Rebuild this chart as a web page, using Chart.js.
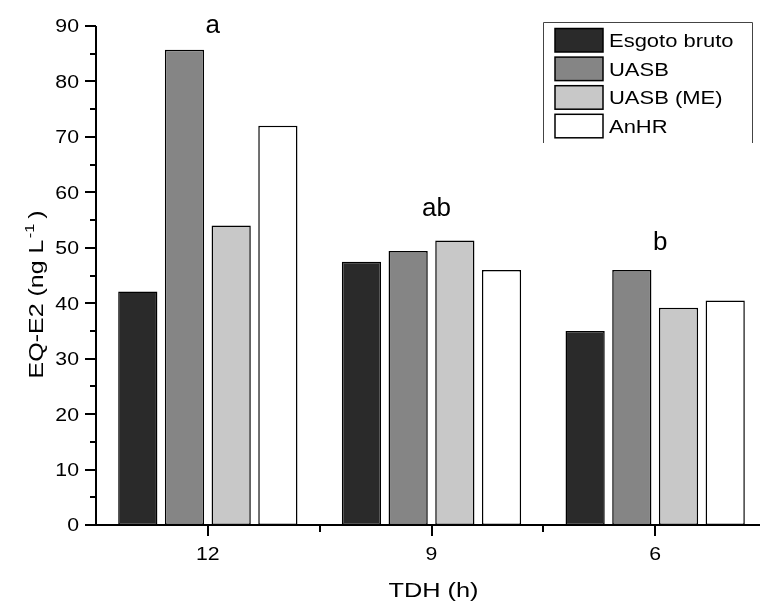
<!DOCTYPE html>
<html>
<head>
<meta charset="utf-8">
<script src="https://cdn.jsdelivr.net/npm/chart.js@4.4.0/dist/chart.umd.min.js"></script>
<style>
  html, body { margin: 0; padding: 0; background: #fff; overflow: hidden; }
</style>
</head>
<body>
<canvas id="grafico" width="770" height="608"></canvas>
<script>
const categories = ['12', '9', '6'];
const seriesNames = ['Esgoto bruto', 'UASB', 'UASB (ME)', 'AnHR'];
const esgotoBruto = [42.1, 47.5, 35.0];
const uasb = [85.7, 49.4, 46.0];
const uasbME = [54.0, 51.3, 39.2];
const anhr = [72.0, 46.0, 40.5];
const groupLetters = ['a', 'ab', 'b'];
const letterLevels = [88.7, 55.7, 49.6];
const yTickValues = [0, 10, 20, 30, 40, 50, 60, 70, 80, 90];

const fills = ['#2a2a2a', '#858585', '#c8c8c8', '#ffffff'];
const FONT = '"Liberation Sans", Arial, sans-serif';

// text in the original is drawn wide, so stretch it a bit
function txt(ctx, s, x, y, size, sx, align) {
    ctx.save();
    ctx.font = size + 'px ' + FONT;
    ctx.translate(x, y);
    ctx.scale(sx, 1);
    ctx.textAlign = align;
    ctx.textBaseline = 'alphabetic';
    ctx.fillText(s, 0, 0);
    ctx.restore();
}

const extras = {
    id: 'extras',
    afterDraw(chart) {
        const ctx = chart.ctx;
        const x = chart.scales.x, y = chart.scales.y;
        const ca = chart.chartArea;
        ctx.save();
        ctx.strokeStyle = '#000';
        ctx.fillStyle = '#000';
        ctx.lineWidth = 2;
        ctx.beginPath();
        ctx.moveTo(ca.left, ca.top);
        ctx.lineTo(ca.left, ca.bottom);
        ctx.lineTo(chart.width, ca.bottom);
        ctx.stroke();

        // y ticks, major every 10, minor every 5
        for (let v = 0; v <= 90; v += 5) {
            const py = Math.round(y.getPixelForValue(v));
            const len = v % 10 === 0 ? 11 : 6;
            ctx.beginPath();
            ctx.moveTo(ca.left - len, py);
            ctx.lineTo(ca.left, py);
            ctx.stroke();
        }
        yTickValues.forEach(v => {
            txt(ctx, String(v), ca.left - 17, y.getPixelForValue(v) + 6.4, 18, 1.18, 'right');
        });

        // x ticks at centres and minor at boundaries
        for (let i = 0; i < categories.length; i++) {
            const px = Math.round(x.getPixelForValue(i));
            ctx.beginPath();
            ctx.moveTo(px, ca.bottom);
            ctx.lineTo(px, ca.bottom + 11);
            ctx.stroke();
            const bx = Math.round(x.getPixelForValue(i + 0.5));
            ctx.beginPath();
            ctx.moveTo(bx, ca.bottom);
            ctx.lineTo(bx, ca.bottom + 7);
            ctx.stroke();
            txt(ctx, categories[i], x.getPixelForValue(i), ca.bottom + 35, 18, 1.18, 'center');
        }

        // axis titles
        txt(ctx, 'TDH (h)', (ca.left + ca.right) / 2 + 2, 597, 19.5, 1.3, 'center');

        ctx.save();
        ctx.translate(43, (ca.top + ca.bottom) / 2 + 19);
        ctx.rotate(-Math.PI / 2);
        ctx.scale(1.25, 1);
        ctx.textBaseline = 'alphabetic';
        ctx.textAlign = 'left';
        const main = 'EQ-E2 (ng L', sup = '-1', close = ')';
        ctx.font = '20px ' + FONT;
        const w1 = ctx.measureText(main).width, w3 = ctx.measureText(close).width;
        ctx.font = '13px ' + FONT;
        const w2 = ctx.measureText(sup).width;
        const total = w1 + w2 + w3 + 5;
        let cx = -total / 2;
        ctx.font = '20px ' + FONT;
        ctx.fillText(main, cx, 0);
        cx += w1 + 1;
        ctx.font = '13px ' + FONT;
        ctx.fillText(sup, cx, -9);
        cx += w2 + 4;
        ctx.font = '20px ' + FONT;
        ctx.fillText(close, cx, 0);
        ctx.restore();

        // group letters
        groupLetters.forEach((t, i) => {
            txt(ctx, t, x.getPixelForValue(i) + 5, y.getPixelForValue(letterLevels[i]), 26, 1.0, 'center');
        });

        // legend box (open at the bottom)
        ctx.strokeStyle = '#444';
        ctx.lineWidth = 1;
        ctx.beginPath();
        ctx.moveTo(543.5, 143);
        ctx.lineTo(543.5, 22.5);
        ctx.lineTo(752.5, 22.5);
        ctx.lineTo(752.5, 143);
        ctx.stroke();
        seriesNames.forEach((name, i) => {
            const top = 28.5 + i * 28.6;
            ctx.fillStyle = fills[i];
            ctx.fillRect(555, top, 48, 23.5);
            ctx.strokeStyle = '#000';
            ctx.lineWidth = 1.5;
            ctx.strokeRect(555, top, 48, 23.5);
            ctx.fillStyle = '#000';
            txt(ctx, name, 609, top + 18.5, 18, 1.22, 'left');
        });
        ctx.restore();
    }
};

const seriesValues = [esgotoBruto, uasb, uasbME, anhr];

new Chart(document.getElementById('grafico'), {
    type: 'bar',
    data: {
        labels: categories,
        datasets: seriesNames.map((name, i) => ({
            label: name,
            data: seriesValues[i],
            backgroundColor: fills[i],
            borderColor: '#000',
            borderWidth: 1.5,
            borderSkipped: false,
            categoryPercentage: 0.835,
            barPercentage: 0.84
        }))
    },
    options: {
        responsive: false,
        animation: false,
        devicePixelRatio: 1,
        layout: { padding: { top: 26, right: 3, left: 0, bottom: 0 } },
        plugins: { legend: { display: false }, tooltip: { enabled: false } },
        scales: {
            x: {
                grid: { display: false, drawTicks: false },
                border: { display: false },
                ticks: { display: false },
                afterFit: s => { s.height = 83; }
            },
            y: {
                min: 0,
                max: 90,
                grid: { display: false, drawTicks: false },
                border: { display: false },
                ticks: { display: false, stepSize: 10 },
                afterFit: s => { s.width = 96; }
            }
        }
    },
    plugins: [extras]
});
</script>
</body>
</html>
